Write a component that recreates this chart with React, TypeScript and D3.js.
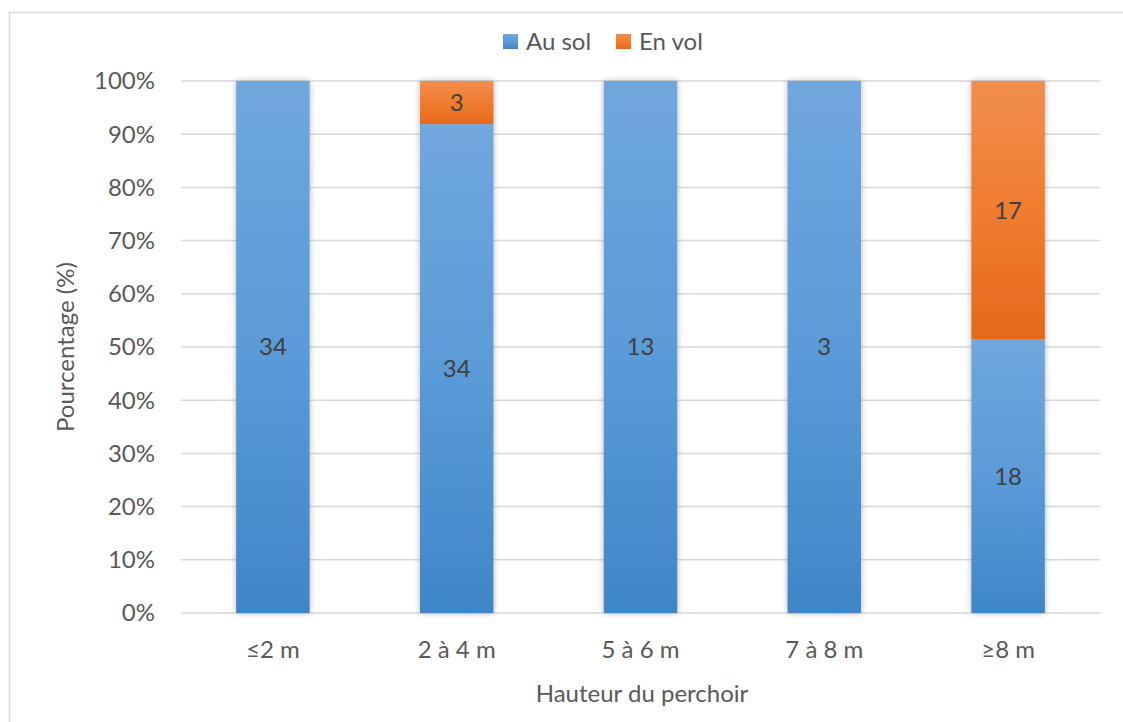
import React from "react";
import * as d3 from "d3";

const categories = ["≤2 m", "2 à 4 m", "5 à 6 m", "7 à 8 m", "≥8 m"];
const auSol = [34, 34, 13, 3, 18];
const enVol = [0, 3, 0, 0, 17];
const yTicks = [0, 10, 20, 30, 40, 50, 60, 70, 80, 90, 100];
const seriesNames = ["Au sol", "En vol"];

const W = 1123;
const H = 722;
const FONT = "Lato, 'Open Sans', sans-serif";
const TXT = "#595959";

export default function App() {
  const x = d3.scaleBand<string>().domain(categories).range([181, 1100]).paddingInner(0.6).paddingOuter(0.3);
  const y = d3.scaleLinear().domain([0, 100]).range([613, 81]);

  const rows = categories.map((c, i) => {
    const total = auSol[i] + enVol[i];
    return { c, a: auSol[i], v: enVol[i], pa: (auSol[i] / total) * 100, pv: (enVol[i] / total) * 100 };
  });

  return (
    <svg width={W} height={H} style={{ position: "absolute", left: 0, top: 0, background: "#fff" }} fontFamily={FONT}>
      <defs>
        <linearGradient id="gBlue" x1="0" y1="0" x2="0" y2="1">
          <stop offset="0" stopColor="#70A7DD" />
          <stop offset="0.5" stopColor="#5B9BD8" />
          <stop offset="1" stopColor="#3F86C7" />
        </linearGradient>
        <linearGradient id="gOrange" x1="0" y1="0" x2="0" y2="1">
          <stop offset="0" stopColor="#F18E50" />
          <stop offset="0.5" stopColor="#F07C2E" />
          <stop offset="1" stopColor="#E5691A" />
        </linearGradient>
        <filter id="shadow" x="-30%" y="-10%" width="160%" height="120%">
          <feGaussianBlur in="SourceAlpha" stdDeviation="3" />
          <feComponentTransfer>
            <feFuncA type="linear" slope="0.3" />
          </feComponentTransfer>
          <feMerge>
            <feMergeNode />
            <feMergeNode in="SourceGraphic" />
          </feMerge>
        </filter>
      </defs>
      <rect x={9.5} y={12.5} width={1140} height={740} fill="#fff" stroke="#D9D9D9" strokeWidth={1.5} />

      {yTicks.map((t) => (
        <g key={t}>
          <line x1={181} x2={1100} y1={y(t)} y2={y(t)} stroke="#D9D9D9" strokeWidth={1.5} />
          <text x={155} y={y(t)} dy="0.35em" textAnchor="end" fontSize={24} fill={TXT}>
            {t}%
          </text>
        </g>
      ))}

      {rows.map((r) => {
        const bx = x(r.c)!;
        const bw = x.bandwidth();
        return (
          <g key={r.c} filter="url(#shadow)">
            <rect x={bx} y={y(r.pa)} width={bw} height={y(0) - y(r.pa)} fill="url(#gBlue)" />
            {r.v > 0 && (
              <rect x={bx} y={y(100)} width={bw} height={y(r.pa) - y(100)} fill="url(#gOrange)" />
            )}
          </g>
        );
      })}

      {rows.map((r) => {
        const cx = x(r.c)! + x.bandwidth() / 2;
        return (
          <g key={r.c + "lbl"}>
            <text x={cx} y={y(r.pa / 2)} dy="0.35em" textAnchor="middle" fontSize={24} fill="#404040">
              {r.a}
            </text>
            {r.v > 0 && (
              <text x={cx} y={y(r.pa + r.pv / 2)} dy="0.35em" textAnchor="middle" fontSize={24} fill="#404040">
                {r.v}
              </text>
            )}
            <text x={cx} y={658} textAnchor="middle" fontSize={24} fill={TXT}>
              {r.c}
            </text>
          </g>
        );
      })}

      <text x={642} y={702} textAnchor="middle" fontSize={24} fill={TXT}>
        Hauteur du perchoir
      </text>
      <text transform={`translate(74,${(y(0) + y(100)) / 2}) rotate(-90)`} textAnchor="middle" fontSize={24} fill={TXT}>
        Pourcentage (%)
      </text>

      <g>
        <rect x={503} y={34} width={15} height={15} fill="url(#gBlue)" />
        <text x={526} y={50} fontSize={24} fill={TXT}>{seriesNames[0]}</text>
        <rect x={616} y={34} width={15} height={15} fill="url(#gOrange)" />
        <text x={639} y={50} fontSize={24} fill={TXT}>{seriesNames[1]}</text>
      </g>
    </svg>
  );
}
